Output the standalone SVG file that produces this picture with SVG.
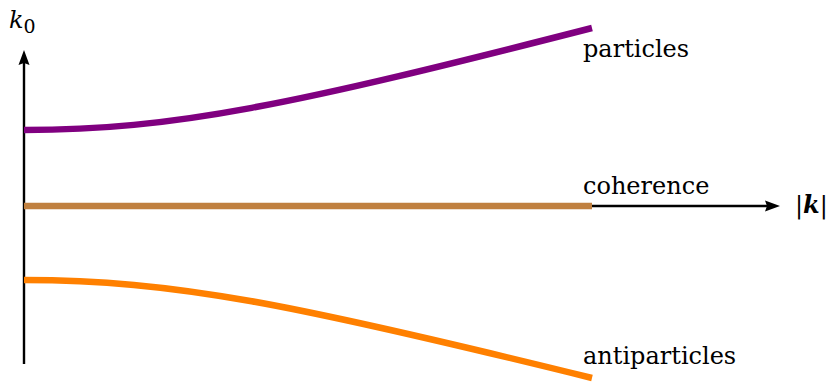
<svg xmlns="http://www.w3.org/2000/svg" width="829" height="388" viewBox="0 0 829 388">
<style>
text{font-family:'DejaVu Serif','Liberation Serif',serif;font-size:24px;fill:#000}
.axis{stroke:#000;stroke-width:2.4;fill:none}
.band{fill:none;stroke-width:6.5;stroke-linecap:butt}
.head{fill:#000}
</style>
<g id="connectors">
<line class="axis" x1="24" y1="364" x2="24" y2="62"/>
<path class="head" d="M24,50 L29.5,65 L24,63 L18.5,65 Z"/>
<line class="axis" x1="24" y1="206" x2="768" y2="206"/>
<path class="head" d="M780,206 L765,211.5 L767,206 L765,200.5 Z"/>
</g>
<g id="coherence">
<line class="band" x1="24" y1="206" x2="592" y2="206" stroke="#c08040"/>
<text x="583" y="194">coherence</text>
</g>
<g id="particles">
<path class="band" stroke="#800080" d="M24,130 C174,130 292,104.9 592,28"/>
<text x="583" y="57">particles</text>
</g>
<g id="antiparticles">
<path class="band" stroke="#ff8000" d="M24,280 C174,280 292,303.9 592,378"/>
<text x="583" y="364">antiparticles</text>
</g>
<g id="axis-labels">
<text x="9" y="28" font-size="27"><tspan font-style="italic">k</tspan><tspan font-size="19" dy="5">0</tspan></text>
<text x="795" y="213" font-size="28">|<tspan font-style="italic" font-weight="bold">k</tspan>|</text>
</g>
</svg>
